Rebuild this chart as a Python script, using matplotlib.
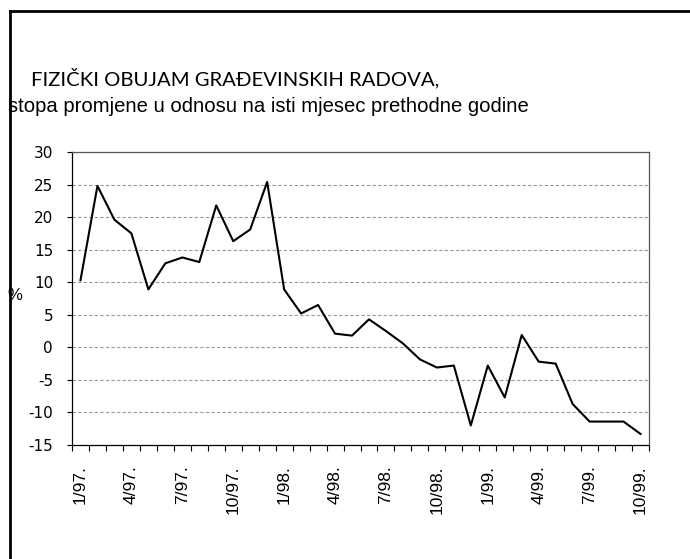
import matplotlib
matplotlib.use("Agg")
import matplotlib.pyplot as plt
from matplotlib.lines import Line2D
import numpy as np

months = ["1/97.", "2/97.", "3/97.", "4/97.", "5/97.", "6/97.", "7/97.", "8/97.", "9/97.", "10/97.", "11/97.", "12/97.",
          "1/98.", "2/98.", "3/98.", "4/98.", "5/98.", "6/98.", "7/98.", "8/98.", "9/98.", "10/98.", "11/98.", "12/98.",
          "1/99.", "2/99.", "3/99.", "4/99.", "5/99.", "6/99.", "7/99.", "8/99.", "9/99.", "10/99."]
values = [10.3, 24.8, 19.6, 17.5, 8.9, 12.9, 13.8, 13.1, 21.8, 16.3, 18.1, 25.4,
          8.9, 5.2, 6.5, 2.1, 1.8, 4.3, 2.5, 0.6, -1.85, -3.1, -2.8, -12.0,
          -2.8, -7.7, 1.9, -2.2, -2.5, -8.7, -11.4, -11.4, -11.4, -13.3]
y_ticks = [-15, -10, -5, 0, 5, 10, 15, 20, 25, 30]

title = "FIZIČKI OBUJAM GRAĐEVINSKIH RADOVA,"
subtitle = "stopa promjene u odnosu na isti mjesec prethodne godine"

plt.rcParams['font.family'] = ['Liberation Sans', 'DejaVu Sans']

fig = plt.figure(figsize=(6.9, 5.59), dpi=100)
ax = fig.add_axes([72/690, 114/559, (649-72)/690, (445-152)/559])

x = np.arange(len(values))
ax.plot(x, values, color='black', lw=1.5)

ax.set_xlim(-0.5, len(values) - 0.5)
ax.set_ylim(y_ticks[0], y_ticks[-1])
ax.set_yticks(y_ticks)
ax.set_yticklabels([str(v) for v in y_ticks], fontsize=11, family=['DejaVu Sans'])
for v in y_ticks[1:-1]:
    ax.axhline(v, color='#999999', lw=0.8, linestyle=(0, (3, 2)), zorder=0)

lab_idx = list(range(0, len(months), 3))
ax.set_xticks(lab_idx)
ax.set_xticklabels([months[i] for i in lab_idx], rotation=90, fontsize=12.5)
ax.set_xticks(np.arange(-0.5, len(months)), minor=True)
ax.tick_params(axis='x', which='major', length=0, pad=14.5)
ax.tick_params(axis='x', which='minor', length=4.3, width=0.8, direction='out')
ax.tick_params(axis='y', length=3.8, width=0.8, direction='out', pad=9.8)

for s in ['left', 'bottom']:
    ax.spines[s].set_color('black')
    ax.spines[s].set_linewidth(0.9)
for s in ['top', 'right']:
    ax.spines[s].set_color('#555555')
    ax.spines[s].set_linewidth(0.9)

fig.text(7/690, 1 - 296/559, "%", fontsize=12, ha='left', va='center')
fig.text(31/690, 1 - 85/559, title, fontsize=14.6, family=['Lato', 'DejaVu Sans'],
         ha='left', va='baseline')
fig.text(8/690, 1 - 112/559, subtitle, fontsize=14.6, ha='left', va='baseline')

bx, by = 9.7 / 690, 1 - 10.5 / 559
fig.add_artist(Line2D([bx, bx], [0, by], color='black', lw=2.0, transform=fig.transFigure))
fig.add_artist(Line2D([bx, 1], [by, by], color='black', lw=2.0, transform=fig.transFigure))

fig.savefig("out.png", dpi=100)
